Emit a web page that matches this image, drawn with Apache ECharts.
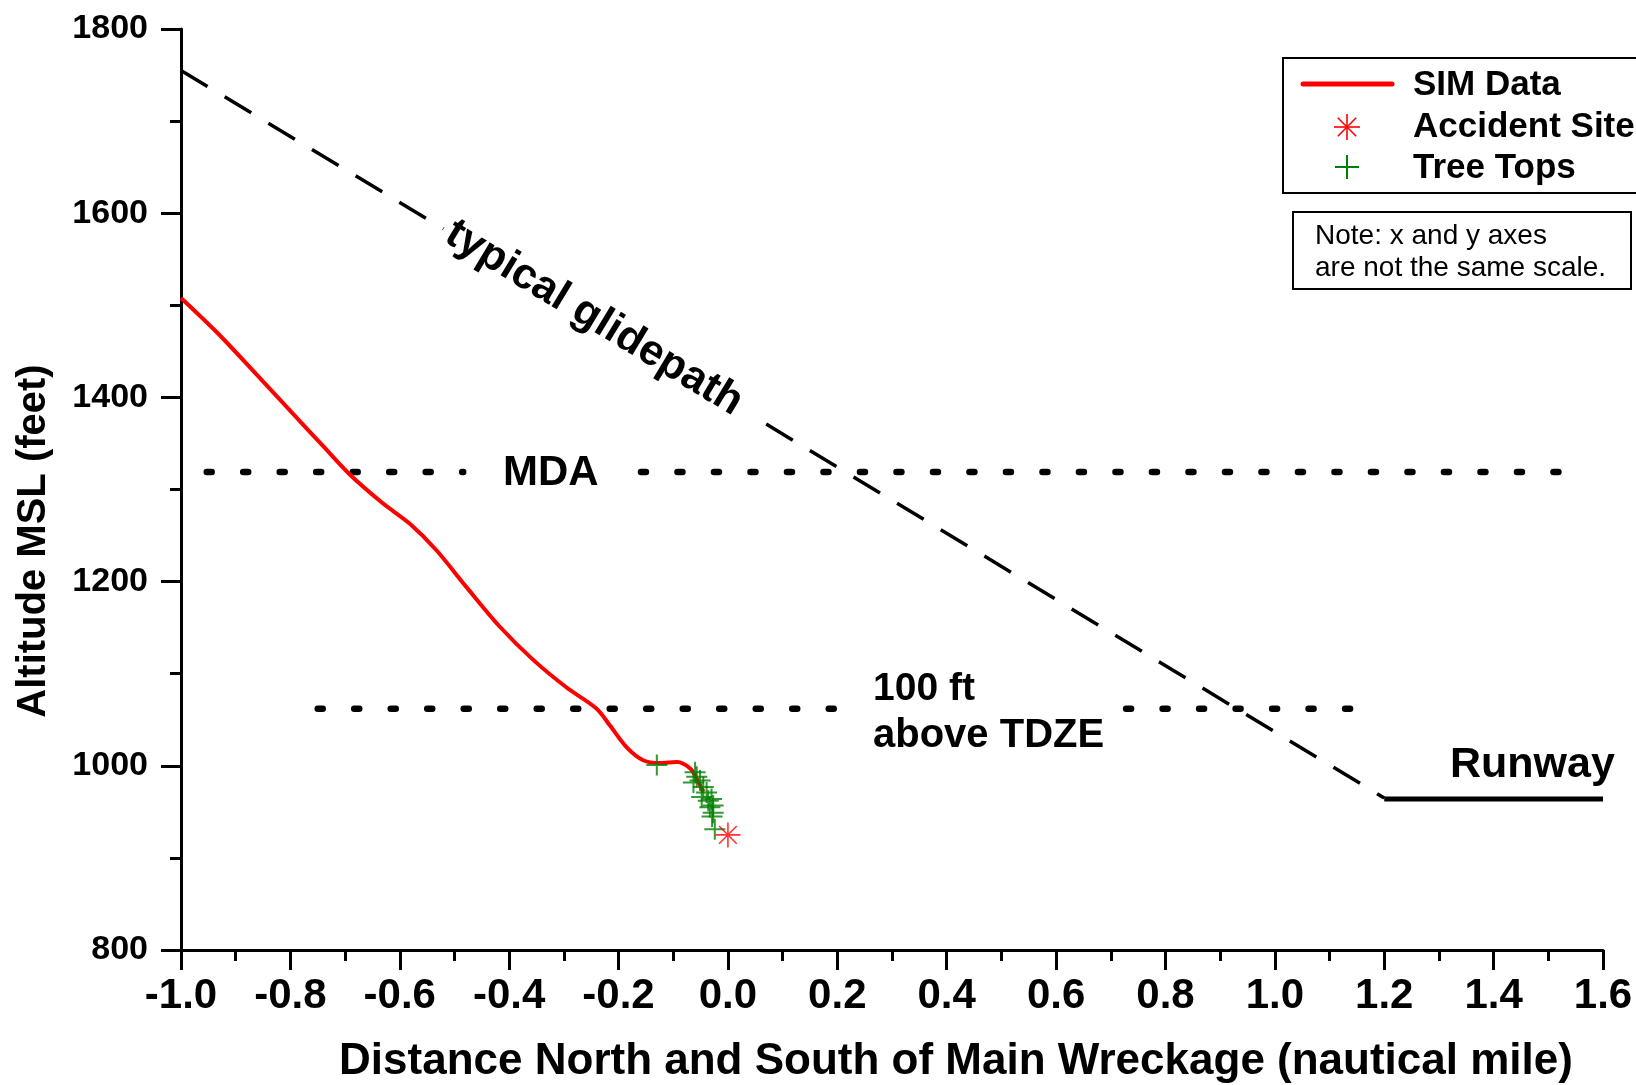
<!DOCTYPE html>
<html>
<head>
<meta charset="utf-8">
<script src="https://cdn.jsdelivr.net/npm/echarts@6/dist/echarts.min.js"></script>
<style>
  html, body { margin: 0; padding: 0; background: #fff; }
  #chart { width: 1636px; height: 1085px; }
</style>
</head>
<body>
<div id="chart"></div>
<script>
// ---- data ----
const xTicks = { min: -1.0, max: 1.6, interval: 0.2 };
const yTicks = { min: 800, max: 1800, interval: 200 };

const simX = [-1.0, -0.935, -0.862, -0.795, -0.740, -0.691, -0.631, -0.582, -0.533, -0.478, -0.417, -0.356, -0.295, -0.240, -0.216, -0.185, -0.155, -0.124, -0.093, -0.069, -0.057, -0.045];
const simY = [1508, 1471, 1425, 1382, 1347, 1316, 1285, 1263, 1234, 1194, 1151, 1115, 1085, 1062, 1044, 1020, 1006, 1003, 1004, 997, 986, 972];

const treeX = [-0.130, -0.060, -0.057, -0.063, -0.051, -0.045, -0.039, -0.048, -0.036, -0.030, -0.027, -0.033, -0.027, -0.029, -0.024];
const treeY = [1001, 993, 988, 982, 984, 977, 971, 966, 962, 964, 957, 955, 949, 945, 931];

const accidentX = [0.0];
const accidentY = [925];

const glideX1 = [-1.0, -0.52];
const glideY1 = [1755, 1583];
const glideX2 = [0.07, 1.2];
const glideY2 = [1371, 965];

const runwayX = [1.2, 1.6];
const runwayY = [964, 964];

const mdaX1 = [-0.953, -0.484];
const mdaX2 = [-0.159, 1.539];
const mdaAlt = 1319;

const tdzeX1 = [-0.750, 0.194];
const tdzeX2 = [0.728, 1.138];
const tdzeAlt = 1062;

const legendNames = ['SIM Data', 'Accident Site', 'Tree Tops'];
const noteLines = ['Note: x and y axes', 'are not the same scale.'];
const xTitle = 'Distance North and South of Main Wreckage (nautical mile)';
const yTitle = 'Altitude MSL (feet)';

// ---- helpers ----
const zip = (xs, ys) => xs.map((x, i) => [x, ys[i]]);
const flat = (xs, y) => xs.map(x => [x, y]);
const FONT = 'Liberation Sans, Arial, sans-serif';
const dotted = { color: '#000', width: 6.5, type: [5, 31.5], cap: 'round' };
const dashed = { color: '#000', width: 3.5, type: [31, 20] };
const plusPath = 'path://M0,10L20,10M10,0L10,20';
const starPath = 'path://M10,0L10,20M0,10L20,10M2.93,2.93L17.07,17.07M2.93,17.07L17.07,2.93';

const chart = echarts.init(document.getElementById('chart'), null, { renderer: 'canvas' });

const axisCommon = {
  type: 'value',
  splitLine: { show: false },
  axisLine: { show: true, onZero: false, lineStyle: { color: '#000', width: 3 } },
  axisTick: { show: true, inside: false, length: 20, lineStyle: { color: '#000', width: 3 } },
  minorTick: { show: true, splitNumber: 2, length: 11, lineStyle: { color: '#000', width: 3 } },
  minorSplitLine: { show: false }
};

const option = {
  animation: false,
  backgroundColor: '#fff',
  grid: { left: 181, right: 33, top: 29, bottom: 135, containLabel: false },
  xAxis: Object.assign({}, axisCommon, {
    min: xTicks.min, max: xTicks.max, interval: xTicks.interval,
    axisLabel: { show: true, margin: 25, color: '#000', fontFamily: FONT, fontWeight: 'bold', fontSize: 42,
      formatter: v => v.toFixed(1), showMinLabel: true, showMaxLabel: true }
  }),
  yAxis: Object.assign({}, axisCommon, {
    min: yTicks.min, max: yTicks.max, interval: yTicks.interval,
    axisLabel: { show: true, margin: 33, color: '#000', fontFamily: FONT, fontWeight: 'bold', fontSize: 34,
      formatter: v => String(v), showMinLabel: true, showMaxLabel: true }
  }),
  series: [
    { name: 'MDA', type: 'line', data: flat(mdaX1, mdaAlt), symbol: 'none', lineStyle: dotted, silent: true },
    { name: 'MDA', type: 'line', data: flat(mdaX2, mdaAlt), symbol: 'none', lineStyle: dotted, silent: true },
    { name: '100 ft above TDZE', type: 'line', data: flat(tdzeX1, tdzeAlt), symbol: 'none', lineStyle: dotted, silent: true },
    { name: '100 ft above TDZE', type: 'line', data: flat(tdzeX2, tdzeAlt), symbol: 'none', lineStyle: dotted, silent: true },
    { name: 'typical glidepath', type: 'line', data: zip(glideX1, glideY1), symbol: 'none', lineStyle: dashed, silent: true },
    { name: 'typical glidepath', type: 'line', data: zip(glideX2, glideY2), symbol: 'none', lineStyle: dashed, silent: true },
    { name: 'Runway', type: 'line', data: zip(runwayX, runwayY), symbol: 'none', lineStyle: { color: '#000', width: 5 }, silent: true },
    { name: legendNames[0], type: 'line', data: zip(simX, simY), symbol: 'none', smooth: 0.3,
      lineStyle: { color: '#ff0000', width: 4 }, z: 3 },
    { name: legendNames[2], type: 'scatter', data: zip(treeX, treeY), symbol: plusPath, symbolSize: 21,
      itemStyle: { color: '#008000', borderColor: '#008000', borderWidth: 2 }, z: 4 },
    { name: legendNames[1], type: 'scatter', data: zip(accidentX, accidentY), symbol: starPath, symbolSize: 25,
      itemStyle: { color: '#ff0000', borderColor: '#ff0000', borderWidth: 1.6 }, z: 5 }
  ],
  graphic: [
    // annotations
    { type: 'text', x: 503, y: 473, style: { text: 'MDA', font: 'bold 42px ' + FONT, fill: '#000', textAlign: 'left', textVerticalAlign: 'middle' } },
    { type: 'text', x: 873, y: 689, style: { text: '100 ft', font: 'bold 39px ' + FONT, fill: '#000', textAlign: 'left', textVerticalAlign: 'middle' } },
    { type: 'text', x: 873, y: 736, style: { text: 'above TDZE', font: 'bold 40px ' + FONT, fill: '#000', textAlign: 'left', textVerticalAlign: 'middle' } },
    { type: 'text', x: 1450, y: 765, style: { text: 'Runway', font: 'bold 43px ' + FONT, fill: '#000', textAlign: 'left', textVerticalAlign: 'middle' } },
    { type: 'text', x: 594, y: 318, rotation: -0.5438, style: { text: 'typical glidepath', font: 'bold 43px ' + FONT, fill: '#000', textAlign: 'center', textVerticalAlign: 'middle' } },
    // axis titles
    { type: 'text', x: 956, y: 1062, style: { text: xTitle, font: 'bold 44px ' + FONT, fill: '#000', textAlign: 'center', textVerticalAlign: 'middle' } },
    { type: 'text', x: 34, y: 541, rotation: Math.PI / 2, style: { text: yTitle, font: 'bold 40px ' + FONT, fill: '#000', textAlign: 'center', textVerticalAlign: 'middle' } },
    // legend box
    { type: 'rect', shape: { x: 1283, y: 58, width: 380, height: 135 }, style: { fill: '#fff', stroke: '#000', lineWidth: 2 }, z: 10 },
    { type: 'line', shape: { x1: 1303, y1: 84, x2: 1392, y2: 84 }, style: { stroke: '#ff0000', lineWidth: 5, lineCap: 'round' }, z: 11 },
    { type: 'line', shape: { x1: 1347, y1: 114, x2: 1347, y2: 140 }, style: { stroke: '#ff0000', lineWidth: 1.6 }, z: 11 },
    { type: 'line', shape: { x1: 1334, y1: 127, x2: 1360, y2: 127 }, style: { stroke: '#ff0000', lineWidth: 1.6 }, z: 11 },
    { type: 'line', shape: { x1: 1337.8, y1: 117.8, x2: 1356.2, y2: 136.2 }, style: { stroke: '#ff0000', lineWidth: 1.6 }, z: 11 },
    { type: 'line', shape: { x1: 1337.8, y1: 136.2, x2: 1356.2, y2: 117.8 }, style: { stroke: '#ff0000', lineWidth: 1.6 }, z: 11 },
    { type: 'line', shape: { x1: 1347, y1: 155, x2: 1347, y2: 179 }, style: { stroke: '#008000', lineWidth: 2 }, z: 11 },
    { type: 'line', shape: { x1: 1335, y1: 167, x2: 1359, y2: 167 }, style: { stroke: '#008000', lineWidth: 2 }, z: 11 },
    { type: 'text', x: 1413, y: 85, z: 11, style: { text: legendNames[0], font: 'bold 35px ' + FONT, fill: '#000', textAlign: 'left', textVerticalAlign: 'middle' } },
    { type: 'text', x: 1413, y: 127, z: 11, style: { text: legendNames[1], font: 'bold 35px ' + FONT, fill: '#000', textAlign: 'left', textVerticalAlign: 'middle' } },
    { type: 'text', x: 1413, y: 168, z: 11, style: { text: legendNames[2], font: 'bold 35px ' + FONT, fill: '#000', textAlign: 'left', textVerticalAlign: 'middle' } },
    // note box
    { type: 'rect', shape: { x: 1293, y: 212, width: 338, height: 77 }, style: { fill: '#fff', stroke: '#000', lineWidth: 2 }, z: 10 },
    { type: 'text', x: 1315, y: 236, z: 11, style: { text: noteLines[0], font: '28px ' + FONT, fill: '#000', textAlign: 'left', textVerticalAlign: 'middle' } },
    { type: 'text', x: 1315, y: 268, z: 11, style: { text: noteLines[1], font: '28px ' + FONT, fill: '#000', textAlign: 'left', textVerticalAlign: 'middle' } }
  ]
};

chart.setOption(option);
</script>
</body>
</html>
